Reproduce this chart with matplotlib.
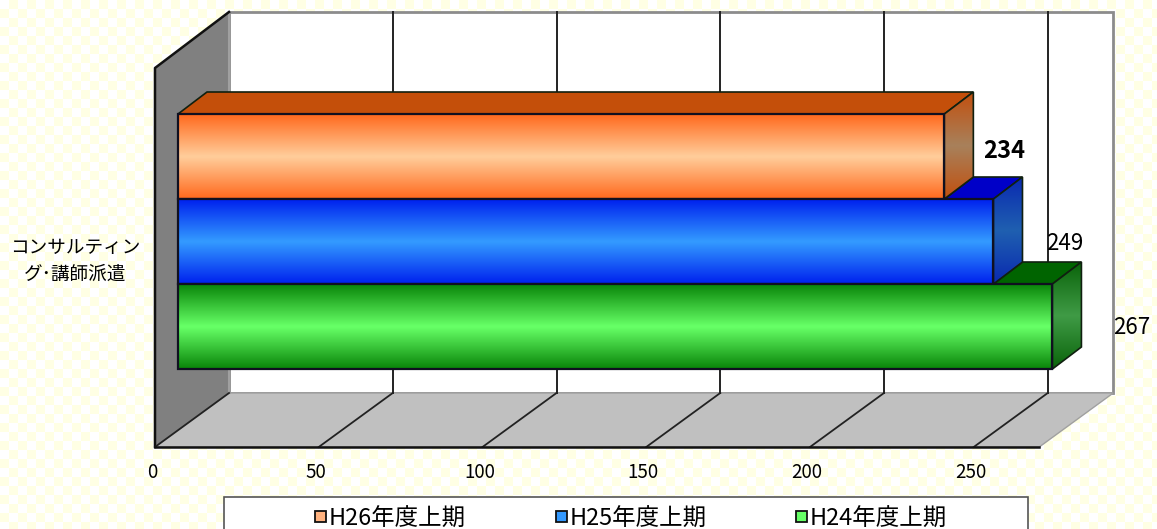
import numpy as np
import matplotlib
matplotlib.use('Agg')
import matplotlib.pyplot as plt
from matplotlib.patches import Polygon, Rectangle
from matplotlib.colors import LinearSegmentedColormap

plt.rcParams['font.family'] = ['Noto Sans CJK JP', 'DejaVu Sans']

# data
category = 'コンサルティン\nグ･講師派遣'
series = ['H26年度上期', 'H25年度上期', 'H24年度上期']
values = [234, 249, 267]
ticks = [0, 50, 100, 150, 200, 250]

# colours per series: edge of gradient, middle of gradient, top face, side edge, side middle
grad_edge = ['#FF6A1E', '#0022EE', '#0A860A']
grad_mid = ['#FFCC99', '#3399FF', '#66FF66']
top_face = ['#C44F0A', '#0000C8', '#006400']
side_edge = ['#C2500F', '#0A2AB0', '#0B640B']
side_mid = ['#A8805A', '#1F5FB0', '#3F9A45']

# pixel layout of the 3D box
X0, Y_FLOOR = 155, 447
UNIT = 3.275
AXIS_MAX = 270
DEPTH_X, DEPTH_Y = 74, 54
TOP = 68
BAR_X0 = 178
BAR_TOP = 114
BAR_H = 85
BAR_DX, BAR_DY = 29, 22

fig = plt.figure(figsize=(11.57, 5.29), dpi=100)
ax = fig.add_axes([0, 0, 1, 1])
ax.axis('off')

# checker background
cell = 9
nx, ny = 1157 // cell + 2, 529 // cell + 2
yy, xx = np.mgrid[0:ny, 0:nx]
checker = ((xx + yy) % 2).astype(float)
bg = LinearSegmentedColormap.from_list('bg', ['#FFFFFF', '#FFFFE4'])
ax.imshow(checker, cmap=bg, vmin=0, vmax=1, extent=(0, nx * cell, ny * cell, 0), zorder=0,
          interpolation='nearest', aspect='auto')


def vx(v):
    return X0 + v * UNIT


# back wall, floor, side wall
right = vx(AXIS_MAX)
ax.add_patch(Rectangle((X0 + DEPTH_X, TOP - DEPTH_Y - 2), right - X0,
                       Y_FLOOR - TOP + 2,
                       fc='white', ec='#8C8C8C', lw=2, zorder=1))
ax.add_patch(Polygon([(X0, Y_FLOOR), (X0 + DEPTH_X, Y_FLOOR - DEPTH_Y),
                      (right + DEPTH_X, Y_FLOOR - DEPTH_Y), (right, Y_FLOOR)],
                     fc='#C0C0C0', ec='#A0A0A0', lw=1, zorder=2))
ax.add_patch(Polygon([(X0, TOP), (X0 + DEPTH_X, TOP - DEPTH_Y - 2),
                      (X0 + DEPTH_X, Y_FLOOR - DEPTH_Y), (X0, Y_FLOOR)],
                     fc='#808080', ec='none', zorder=2))
ax.plot([X0 + DEPTH_X, X0 + DEPTH_X], [TOP - DEPTH_Y - 2, Y_FLOOR - DEPTH_Y], color='#A0A0A0', lw=1.5, zorder=2)
ax.plot([X0, X0, X0 + DEPTH_X], [Y_FLOOR, TOP, TOP - DEPTH_Y - 2], color='#111111', lw=1.8, zorder=3)

# gridlines
for t in ticks[1:]:
    ax.plot([vx(t) + DEPTH_X] * 2, [TOP - DEPTH_Y - 2, Y_FLOOR - DEPTH_Y], color='#222222', lw=1.4, zorder=2)
for t in ticks:
    ax.plot([vx(t), vx(t) + DEPTH_X], [Y_FLOOR, Y_FLOOR - DEPTH_Y], color='#222222', lw=1.3, zorder=3)
ax.plot([X0, right], [Y_FLOOR, Y_FLOOR], color='#111111', lw=1.8, zorder=3)

for t in ticks:
    ax.text(vx(t) - 3, 472, str(t), fontsize=13.5, ha='center', va='center', zorder=6)

# bars, stacked from the top, so a top face only shows past the bar sitting on it
grad = np.abs(np.linspace(-1, 1, 64))[:, None]
for i, v in enumerate(values):
    z = 4 + i * 0.1
    x1 = BAR_X0 + v * UNIT
    y0 = BAR_TOP + i * BAR_H
    y1 = y0 + BAR_H
    x_prev = BAR_X0 + values[i - 1] * UNIT if i else BAR_X0

    # front face
    ax.imshow(1 - grad, cmap=LinearSegmentedColormap.from_list('f', [grad_edge[i], grad_mid[i]]),
              extent=(BAR_X0, x1, y1, y0), zorder=z, aspect='auto', interpolation='bilinear')

    # top
    ax.add_patch(Polygon([(x_prev, y0), (x_prev + BAR_DX, y0 - BAR_DY), (x1 + BAR_DX, y0 - BAR_DY), (x1, y0)],
                         fc=top_face[i], ec='#102010', lw=1.2, zorder=z - 0.5))

    # side, gradient clipped to the parallelogram
    side = Polygon([(x1, y0), (x1 + BAR_DX, y0 - BAR_DY), (x1 + BAR_DX, y1 - BAR_DY), (x1, y1)],
                   fc='none', ec='#102010', lw=1.2, zorder=z + 0.02)
    ax.add_patch(side)
    sc = LinearSegmentedColormap.from_list('s', [side_edge[i], side_mid[i]])
    im = ax.imshow(1 - grad, cmap=sc, extent=(x1, x1 + BAR_DX, y1, y0 - BAR_DY),
                   zorder=z + 0.01, aspect='auto', interpolation='bilinear')
    im.set_clip_path(side)

    ax.add_patch(Rectangle((BAR_X0, y0), x1 - BAR_X0, BAR_H, fc='none', ec='#101020', lw=1.6, zorder=z + 0.03))

# value labels
ax.text(1004, 151, str(values[0]), fontsize=17, fontweight='bold', ha='center', va='center', zorder=6)
ax.text(1065, 243, str(values[1]), fontsize=16, ha='center', va='center', zorder=6)
ax.text(1132, 328, str(values[2]), fontsize=16, ha='center', va='center', zorder=6)

# category label
ax.text(75, 261, category, fontsize=13.4, ha='center', va='center', linespacing=1.62, zorder=6)

# legend box runs off the bottom of the image
ax.add_patch(Rectangle((224, 497), 804, 40, fc='white', ec='#555555', lw=1.2, zorder=5))
leg_x = [320, 561, 801]
for i, s in enumerate(series):
    ax.add_patch(Rectangle((leg_x[i] - 5.5, 510.5), 11, 11, fc=grad_mid[i] if i else '#FFB27F',
                           ec='#111111', lw=1.3, zorder=6))
    ax.text(leg_x[i] + 9, 519, s, fontsize=16.9, ha='left', va='center', zorder=6)

ax.set_xlim(0, 1157)
ax.set_ylim(529, 0)
fig.savefig('out.png', dpi=100)
